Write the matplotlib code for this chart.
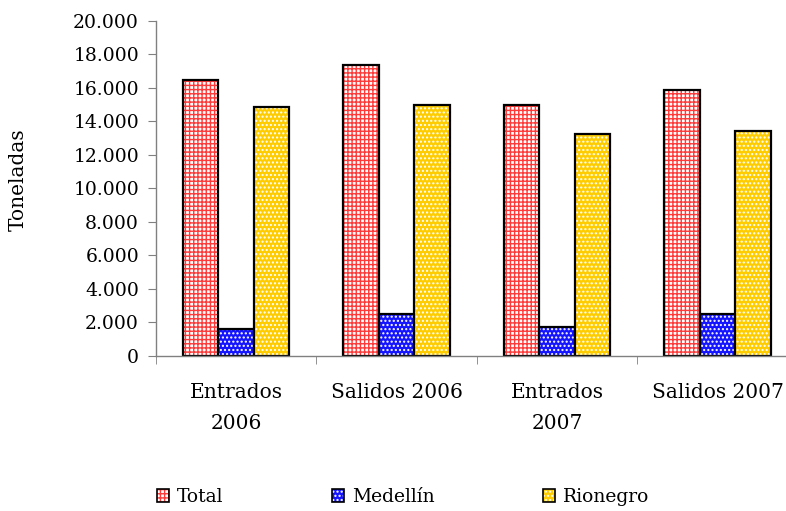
import matplotlib
matplotlib.use("Agg")
import matplotlib.pyplot as plt
from matplotlib.patches import Patch
from matplotlib.legend_handler import HandlerTuple
from matplotlib.ticker import FuncFormatter, FixedLocator
import numpy as np

categories = ["Entrados\n2006", "Salidos 2006", "Entrados\n2007", "Salidos 2007"]
series_names = ["Total", "Medellín", "Rionegro"]
total = [16500, 17400, 15000, 15900]
medellin = [1620, 2480, 1740, 2480]
rionegro = [14870, 14980, 13250, 13450]
y_ticks = list(range(0, 20001, 2000))

plt.rcParams['font.family'] = ['DejaVu Serif']
plt.rcParams['hatch.linewidth'] = 1.0

fig = plt.figure(figsize=(7.86, 5.11), dpi=100)
ax = fig.add_axes([155.7/786, 1-355.7/511, 642/786, (355.7-21)/511])

styles = [
    dict(face="white", hatch="++++", hcol="#FF3838"),
    dict(face="#1414FF", hatch="....", hcol="white"),
    dict(face="#FFCC00", hatch="....", hcol="white"),
]
data = [total, medellin, rionegro]
x = np.arange(len(categories))
w = 0.222
for i, (vals, st) in enumerate(zip(data, styles)):
    pos = x + (i - 1) * w
    ax.bar(pos, vals, width=w, color=st["face"], hatch=st["hatch"],
           edgecolor=st["hcol"], linewidth=0)
    ax.bar(pos, vals, width=w, fill=False, edgecolor="black", linewidth=1.6)

ax.set_xlim(-0.5, 3.5)
ax.set_ylim(0, 20000)
ax.yaxis.set_major_locator(FixedLocator(y_ticks))
ax.yaxis.set_major_formatter(FuncFormatter(lambda v, p: f"{int(v):,}".replace(",", ".")))
ax.set_xticks(x)
ax.set_xticklabels(categories, fontsize=14.5, linespacing=1.8)
ax.set_xticks(np.arange(-0.5, 4, 1), minor=True)
ax.tick_params(axis='x', which='major', length=0, pad=20)
ax.tick_params(axis='x', which='minor', length=6, color="#808080", direction='out')
ax.tick_params(axis='y', which='major', length=6, color="#808080", direction='out',
               labelsize=13.5, pad=6)
for s in ["top", "right"]:
    ax.spines[s].set_visible(False)
for s in ["left", "bottom"]:
    ax.spines[s].set_color("#808080")
    ax.spines[s].set_linewidth(1.0)

fig.text(18/786, 1-180/511, "Toneladas", rotation=90, ha="center", va="center", fontsize=14.5)

handles = [(Patch(facecolor=st["face"], hatch=st["hatch"], edgecolor=st["hcol"], linewidth=0),
            Patch(fill=False, edgecolor="black", linewidth=1.2))
           for st in styles]
leg = fig.legend(handles, series_names, loc="center left", bbox_to_anchor=(157/786, 1-497/511),
                 ncol=3, frameon=False, fontsize=13.5, handlelength=0.65, handleheight=0.65,
                 handletextpad=0.4, columnspacing=5.8, borderpad=0, borderaxespad=0,
                 handler_map={tuple: HandlerTuple(ndivide=1, pad=0)})

fig.savefig("out.png", dpi=100)
